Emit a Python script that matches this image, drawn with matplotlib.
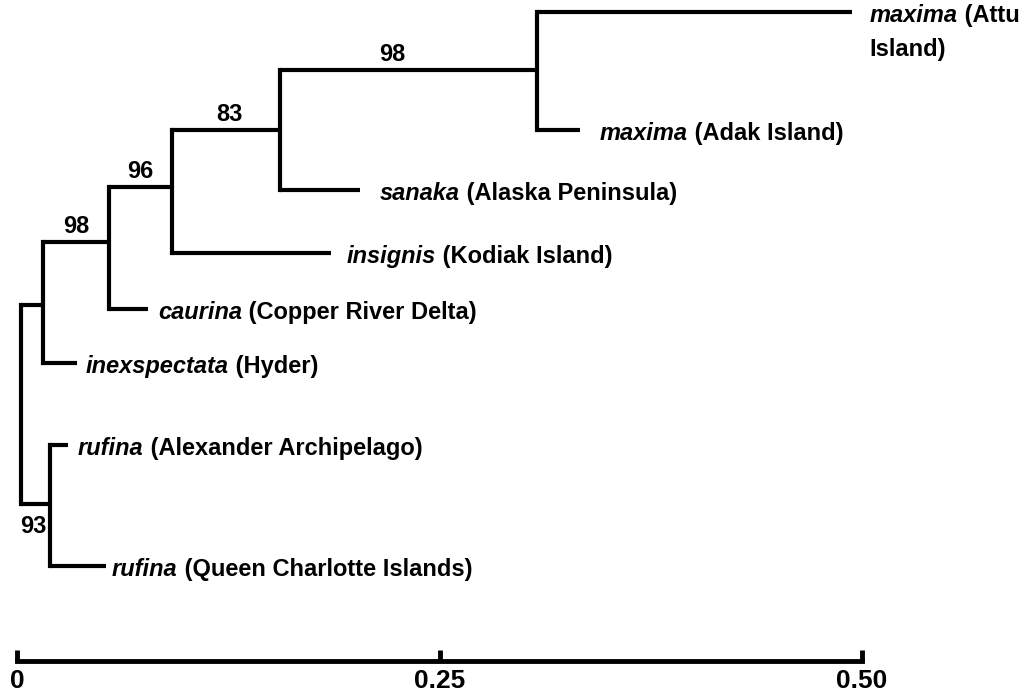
import matplotlib
matplotlib.use("Agg")
import matplotlib.pyplot as plt
from matplotlib import font_manager

# leaves, top to bottom
leaf_taxa = ['maxima', 'maxima', 'sanaka', 'insignis', 'caurina',
             'inexspectata', 'rufina', 'rufina']
leaf_places = ['(Attu\nIsland)', '(Adak Island)', '(Alaska Peninsula)',
               '(Kodiak Island)', '(Copper River Delta)', '(Hyder)',
               '(Alexander Archipelago)', '(Queen Charlotte Islands)']
leaf_depth = [0.494, 0.333, 0.203, 0.186, 0.0775, 0.0355, 0.0302, 0.0527]
leaf_parent = ['E', 'E', 'D', 'C', 'B', 'A', 'R', 'R']
leaf_row = [12, 130, 190, 253, 309, 363, 445, 566]

# internal nodes
node_names = ['root', 'A', 'B', 'C', 'D', 'E', 'R']
node_depth = [0.0024, 0.0154, 0.0544, 0.0917, 0.1556, 0.3077, 0.0195]
node_parent = [None, 'root', 'A', 'B', 'C', 'D', 'root']
node_row = [405, 305, 242, 187, 130, 70, 504]
node_support = [None, None, 98, 96, 83, 98, 93]

scale_ticks = [0, 0.25, 0.50]
scale_labels = ['0', '0.25', '0.50']

# style
label_gap = [18, 20, 20, 15, 10, 9, 10, 6]   # pixels between tip and label
support_side = [None, None, 'above', 'above', 'above', 'above', 'below']
support_dx = [0, 0, 0, 0, 3, -16, -2]
LW = 3

try:
    font_manager.findfont('Liberation Sans Narrow', fallback_to_default=False)
    FAMILY, FS, FS_SCALE = 'Liberation Sans Narrow', 20.7, 23
except Exception:
    FAMILY, FS, FS_SCALE = 'Liberation Sans', 17, 19
plt.rcParams['font.family'] = FAMILY
plt.rcParams['font.weight'] = 'bold'

fig = plt.figure(figsize=(10.22, 6.98), dpi=100)
ax = fig.add_axes([0, 37.5 / 698, 1, 660.5 / 698])
ax.set_xlim(-17 / 1690, 1005 / 1690)
ax.set_ylim(660.5, 0)

depth = dict(zip(node_names, node_depth))
row = dict(zip(node_names, node_row))

# children of each internal node
children = {n: [] for n in node_names}
for n, p in zip(node_names, node_parent):
    if p is not None:
        children[p].append((depth[n], row[n]))
for d, r, p in zip(leaf_depth, leaf_row, leaf_parent):
    children[p].append((d, r))

for n in node_names:
    rows = [r for _, r in children[n]]
    ax.plot([depth[n], depth[n]], [min(rows), max(rows)], color='black',
            lw=LW, solid_capstyle='projecting')
    for d, r in children[n]:
        ax.plot([depth[n], d], [r, r], color='black', lw=LW,
                solid_capstyle='butt')

# bootstrap support, on the stem leading to each node
for n, p, s, side, dx in zip(node_names, node_parent, node_support,
                             support_side, support_dx):
    if s is None:
        continue
    mid = (depth[p] + depth[n]) / 2
    dy = 9 if side == 'above' else -29
    ax.annotate(str(s), xy=(mid, row[n]), xytext=(dx, dy),
                textcoords='offset pixels', ha='center', va='baseline',
                fontsize=FS)

# tip labels: italic subspecies + upright locality, shared baseline
renderer = fig.canvas.get_renderer()
cap_half = 10
line_step = 34
for taxon, place, d, r, gap in zip(leaf_taxa, leaf_places, leaf_depth,
                                   leaf_row, label_gap):
    lines = place.split('\n')
    t = ax.annotate(taxon, xy=(d, r), xytext=(gap, -cap_half),
                    textcoords='offset pixels', ha='left', va='baseline',
                    style='italic', fontsize=FS, annotation_clip=False)
    w = t.get_window_extent(renderer).width
    ax.annotate(' ' + lines[0], xy=(d, r), xytext=(gap + w, -cap_half),
                textcoords='offset pixels', ha='left', va='baseline',
                fontsize=FS, annotation_clip=False)
    for k, extra in enumerate(lines[1:], start=1):
        ax.annotate(extra, xy=(d, r), xytext=(gap, -cap_half - line_step * k),
                    textcoords='offset pixels', ha='left', va='baseline',
                    fontsize=FS, annotation_clip=False)

# scale bar on the x axis
for side in ['top', 'right', 'left']:
    ax.spines[side].set_visible(False)
ax.spines['bottom'].set_bounds(0, 0.5)
ax.spines['bottom'].set_linewidth(3.5)
ax.set_yticks([])
ax.set_xticks(scale_ticks)
ax.set_xticklabels(scale_labels, fontsize=FS_SCALE, fontweight='bold')
ax.tick_params(axis='x', direction='in', length=8, width=3.5, pad=6)
ax.patch.set_visible(False)

fig.savefig('out.png', dpi=100)
